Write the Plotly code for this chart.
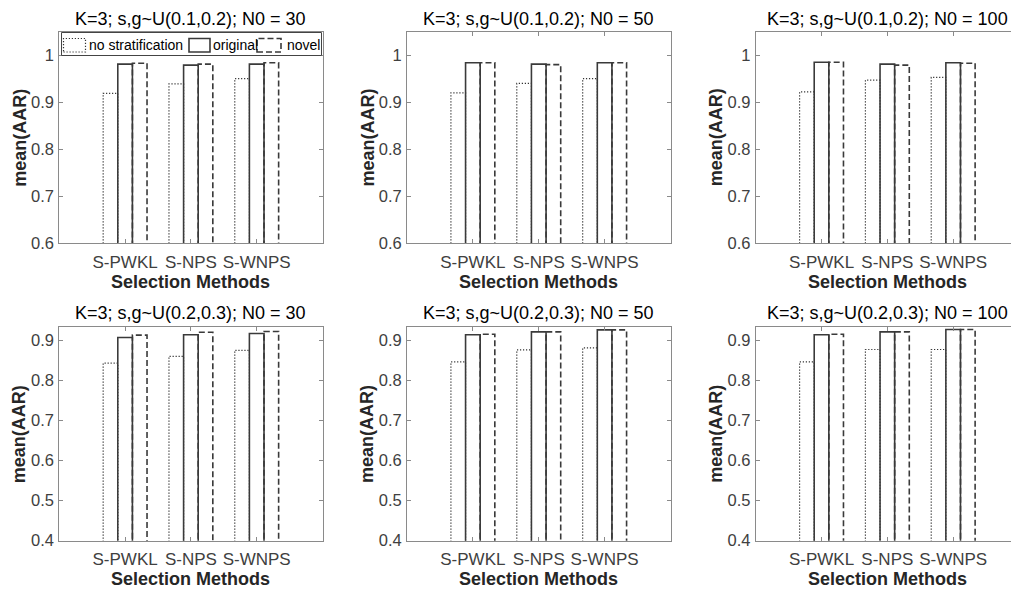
import plotly.graph_objects as go

# ---------------- data ----------------
categories = ["S-PWKL", "S-NPS", "S-WNPS"]
series_names = ["no stratification", "original", "novel"]

titles = [
    "K=3; s,g~U(0.1,0.2); N0 = 30",
    "K=3; s,g~U(0.1,0.2); N0 = 50",
    "K=3; s,g~U(0.1,0.2); N0 = 100",
    "K=3; s,g~U(0.2,0.3); N0 = 30",
    "K=3; s,g~U(0.2,0.3); N0 = 50",
    "K=3; s,g~U(0.2,0.3); N0 = 100",
]

# s,g ~ U(0.1,0.2)
nostrat_a30 = [0.919, 0.939, 0.950]
original_a30 = [0.981, 0.979, 0.981]
novel_a30 = [0.983, 0.981, 0.984]

nostrat_a50 = [0.920, 0.940, 0.950]
original_a50 = [0.984, 0.981, 0.984]
novel_a50 = [0.984, 0.980, 0.984]

nostrat_a100 = [0.922, 0.947, 0.953]
original_a100 = [0.985, 0.981, 0.984]
novel_a100 = [0.985, 0.979, 0.983]

# s,g ~ U(0.2,0.3)
nostrat_b30 = [0.844, 0.861, 0.876]
original_b30 = [0.908, 0.915, 0.918]
novel_b30 = [0.914, 0.921, 0.923]

nostrat_b50 = [0.847, 0.877, 0.882]
original_b50 = [0.915, 0.922, 0.927]
novel_b50 = [0.916, 0.922, 0.927]

nostrat_b100 = [0.847, 0.878, 0.878]
original_b100 = [0.915, 0.922, 0.928]
novel_b100 = [0.916, 0.922, 0.928]

panels = [
    [nostrat_a30, original_a30, novel_a30],
    [nostrat_a50, original_a50, novel_a50],
    [nostrat_a100, original_a100, novel_a100],
    [nostrat_b30, original_b30, novel_b30],
    [nostrat_b50, original_b50, novel_b50],
    [nostrat_b100, original_b100, novel_b100],
]

y_ranges = [[0.6, 1.05]] * 3 + [[0.4, 0.9335]] * 3

# ---------------- styling ----------------
W, H = 1011, 590
FONT = "Liberation Sans, Arial, sans-serif"
AX_COLOR = "#8a8a8a"
TXT_COLOR = "#404040"

line_styles = [
    dict(color="#333333", width=1.2, dash="1.2px,1.8px"),
    dict(color="#3a3a3a", width=1.6, dash="solid"),
    dict(color="#3a3a3a", width=1.6, dash="6px,3px"),
]

# panel pixel boxes (left, right, top, bottom)
col_px = [(59.3, 322.5), (407.0, 670.5), (755.7, 1019.0)]
row_px = [(31.7, 243.3), (327.3, 540.7)]
title_bottom_px = [30.7, 324.5]


def px_x(x):
    return x / W


def px_y(y):
    return 1 - y / H


group_width = 2 / 3
bar_w = group_width / 3

fig = go.Figure()

for p in range(6):
    r, c = divmod(p, 3)
    idx = p + 1
    xa = "x" if idx == 1 else f"x{idx}"
    ya = "y" if idx == 1 else f"y{idx}"
    for k, vals in enumerate(panels[p]):
        xs, ys = [], []
        off = (k - 1) * bar_w
        for ci, v in enumerate(vals):
            xc = ci + 1 + off
            x0, x1 = xc - bar_w / 2, xc + bar_w / 2
            xs += [x0, x0, x1, x1, None]
            ys += [0, v, v, 0, None]
        fig.add_trace(go.Scatter(
            x=xs, y=ys, mode="lines", line=line_styles[k],
            name=series_names[k], showlegend=False, hoverinfo="skip",
            xaxis=xa, yaxis=ya,
        ))

    left, right = col_px[c]
    top, bottom = row_px[r]
    vis_right = min(right, W)
    xr = [0, 4 * (vis_right - left) / (right - left)]
    xdom = [px_x(left), px_x(vis_right)]
    ydom = [px_y(bottom), px_y(top)]
    last_col = c == 2
    xkey = "xaxis" if idx == 1 else f"xaxis{idx}"
    ykey = "yaxis" if idx == 1 else f"yaxis{idx}"
    fig.layout[xkey] = dict(
        domain=xdom, range=xr, anchor=ya, tickvals=[1, 2, 3], ticktext=categories,
        ticks="inside", ticklen=4, tickcolor=AX_COLOR, showline=True, linecolor=AX_COLOR,
        linewidth=1, mirror="ticks", showgrid=False, zeroline=False, fixedrange=True,
        automargin=False, ticklabelstandoff=3,
        tickfont=dict(family=FONT, size=17, color=TXT_COLOR),
    )
    fig.layout[ykey] = dict(
        domain=ydom, range=y_ranges[p], anchor=xa, dtick=0.1, tick0=0,
        ticks="inside", ticklen=4, tickcolor=AX_COLOR, showline=True, linecolor=AX_COLOR,
        linewidth=1, mirror=False if last_col else "ticks", showgrid=False, zeroline=False,
        automargin=False, fixedrange=True, ticklabelstandoff=1,
        tickfont=dict(family=FONT, size=16.5, color=TXT_COLOR),
    )

    cx = (left + right) / 2
    # title
    fig.add_annotation(text=titles[p], xref="paper", yref="paper", x=px_x(cx),
                       y=px_y(title_bottom_px[r]), xanchor="center", yanchor="bottom",
                       showarrow=False, font=dict(family=FONT, size=18, color="#000000"))
    # x label
    fig.add_annotation(text="<b>Selection Methods</b>", xref="paper", yref="paper",
                       x=px_x(cx), y=px_y(bottom + 38.5), xanchor="center", yanchor="middle",
                       showarrow=False, font=dict(family=FONT, size=18, color="#262626"))
    # y label
    fig.add_annotation(text="<b>mean(AAR)</b>", xref="paper", yref="paper",
                       x=px_x(left - 40), y=px_y((top + bottom) / 2), xanchor="center",
                       yanchor="middle", textangle=-90, showarrow=False,
                       font=dict(family=FONT, size=18, color="#262626"))

# ---------------- legend (drawn in the first panel) ----------------
leg_box = (61.5, 321.5, 32.5, 55.5)
fig.add_shape(type="rect", xref="paper", yref="paper",
              x0=px_x(leg_box[0]), x1=px_x(leg_box[1]), y0=px_y(leg_box[3]), y1=px_y(leg_box[2]),
              line=dict(color="#444444", width=1), fillcolor="white", layer="above")
leg_items = [(63.5, 85.5, 87.0), (189.0, 210.0, 211.0), (257.0, 281.0, 284.5)]
for k, (a, b, t) in enumerate(leg_items):
    st = line_styles[k]
    fig.add_shape(type="rect", xref="paper", yref="paper",
                  x0=px_x(a), x1=px_x(b), y0=px_y(52.0), y1=px_y(38.5),
                  line=dict(color=st["color"], width=st["width"], dash=st["dash"]),
                  fillcolor="rgba(0,0,0,0)", layer="above")
    fig.add_annotation(text=series_names[k], xref="paper", yref="paper",
                       x=px_x(t), y=px_y(45.0), xanchor="left", yanchor="middle",
                       showarrow=False, font=dict(family=FONT, size=14, color="#000000"))

fig.update_layout(
    width=W, height=H, margin=dict(l=0, r=0, t=0, b=0, pad=0), autosize=False,
    paper_bgcolor="white", plot_bgcolor="white", showlegend=False,
)

fig.write_html(
    "out.html",
    config={"displayModeBar": False, "responsive": False},
    post_script="document.body.style.margin='0';document.body.style.overflow='hidden';",
)
